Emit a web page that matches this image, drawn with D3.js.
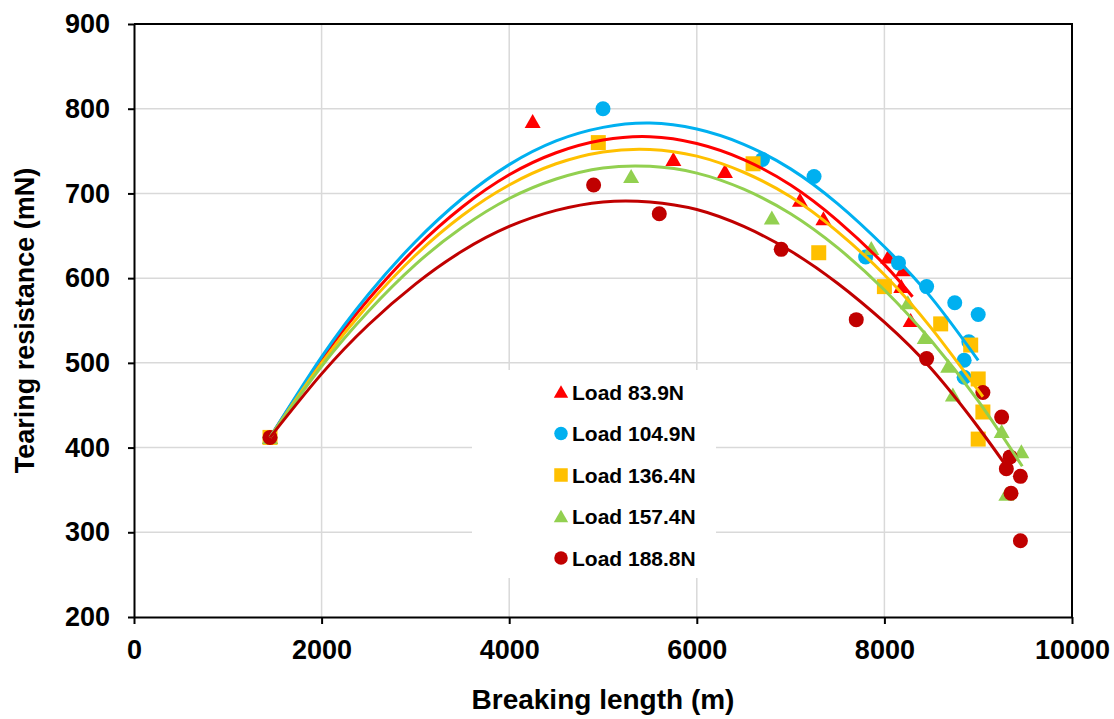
<!DOCTYPE html>
<html>
<head>
<meta charset="utf-8">
<script src="https://cdn.jsdelivr.net/npm/d3@7"></script>
<style>
  body { margin: 0; background: #fff; }
  text { font-family: "Liberation Sans", Arial, sans-serif; font-weight: bold; }
</style>
</head>
<body>
<div class="chart"></div>
<script>
// axis ticks
const xTicks = [0, 2000, 4000, 6000, 8000, 10000];
const yTicks = [200, 300, 400, 500, 600, 700, 800, 900];

// series names / colours / marker shapes
const loads = ["Load 83.9N", "Load 104.9N", "Load 136.4N", "Load 157.4N", "Load 188.8N"];
const colors = ["#ff0000", "#00b0f0", "#ffc000", "#92d050", "#c00000"];
const shapes = ["triangle", "circle", "square", "triangle", "circle"];

// measured points [breaking length, tearing resistance]
const load839 = [[1450, 412], [4250, 785], [5750, 740], [6300, 726], [7100, 692], [7350, 670],
  [8040, 625], [8200, 610], [8180, 590], [8280, 550]];
const load1049 = [[1450, 412], [5000, 800], [6700, 740], [7250, 720], [7800, 625], [8150, 618],
  [8450, 590], [8750, 571], [9000, 557], [8900, 525], [8850, 503], [8850, 483]];
const load1364 = [[1450, 412], [4950, 760], [6600, 735], [7300, 630], [8000, 590], [8600, 546],
  [8920, 521], [9000, 481], [9050, 442], [9000, 410]];
const load1574 = [[1450, 412], [5300, 720], [6800, 671], [7860, 635], [8250, 571], [8430, 530],
  [8680, 496], [8730, 462], [9250, 419], [9460, 395], [9300, 345]];
const load1888 = [[1450, 412], [4900, 710], [5600, 676], [6900, 634], [7700, 551], [8450, 505],
  [9050, 465], [9250, 436], [9340, 389], [9300, 375], [9450, 366], [9350, 346], [9450, 290]];

// polynomial trendlines
const trend839 = [[1450, 412], [2000, 504], [2500, 575], [3000, 635], [3500, 684], [4000, 722],
  [4500, 748], [5000, 763], [5500, 767], [6000, 759], [6500, 740], [7000, 710], [7500, 668],
  [8000, 616], [8300, 578]];
const trend1049 = [[1450, 412], [2000, 507], [2500, 581], [3000, 643], [3500, 694], [4000, 734],
  [4500, 762], [5000, 778], [5500, 783], [6000, 776], [6500, 758], [7000, 729], [7500, 688],
  [8000, 637], [8500, 577], [9000, 503]];
const trend1364 = [[1450, 412], [2000, 500], [2500, 569], [3000, 627], [3500, 674], [4000, 710],
  [4500, 735], [5000, 749], [5500, 752], [6000, 744], [6500, 725], [7000, 696], [7500, 655],
  [8000, 604], [8500, 541], [9050, 460]];
const trend1574 = [[1450, 412], [2000, 496], [2500, 561], [3000, 616], [3500, 660], [4000, 694],
  [4500, 717], [5000, 730], [5500, 732], [6000, 724], [6500, 705], [7000, 676], [7500, 636],
  [8000, 586], [8500, 526], [9000, 455], [9470, 378]];
const trend1888 = [[1450, 412], [2000, 487], [2500, 545], [3000, 593], [3500, 632], [4000, 661],
  [4500, 680], [5000, 690], [5500, 690], [6000, 681], [6500, 661], [7000, 632], [7500, 594],
  [8000, 548], [8500, 493], [9000, 424], [9300, 378]];

const pointSets = [load839, load1049, load1364, load1574, load1888];
const trendSets = [trend839, trend1049, trend1364, trend1574, trend1888];

const width = 1114, height = 719;
const margin = {top: 24, right: 42, bottom: 102, left: 134};

const svg = d3.select(".chart").append("svg")
  .attr("width", width)
  .attr("height", height);

const x = d3.scaleLinear().domain([0, 10000]).range([margin.left, width - margin.right]);
const y = d3.scaleLinear().domain([200, 900]).range([height - margin.bottom, margin.top]);

// gridlines
svg.append("g").selectAll("line.gx")
  .data(xTicks.slice(1, -1))
  .join("line")
  .attr("x1", d => x(d)).attr("x2", d => x(d))
  .attr("y1", y(200)).attr("y2", y(900))
  .style("stroke", "#d9d9d9").style("stroke-width", 1.5);
svg.append("g").selectAll("line.gy")
  .data(yTicks.slice(1, -1))
  .join("line")
  .attr("x1", x(0)).attr("x2", x(10000))
  .attr("y1", d => y(d)).attr("y2", d => y(d))
  .style("stroke", "#d9d9d9").style("stroke-width", 1.5);

// legend background (covers the grid)
const legendX = 472, legendY = 370;
svg.append("rect")
  .attr("x", legendX).attr("y", legendY)
  .attr("width", 244).attr("height", 208)
  .attr("fill", "#fff");

// markers
function drawMarker(sel, shape, color) {
  if (shape === "circle") {
    sel.append("circle").attr("r", 7.5).attr("fill", color);
  } else if (shape === "square") {
    sel.append("rect").attr("x", -7.5).attr("y", -7.5).attr("width", 15).attr("height", 15).attr("fill", color);
  } else {
    sel.append("path").attr("d", "M0,-7.5L8,6.5L-8,6.5Z").attr("fill", color);
  }
}

pointSets.forEach((pts, i) => {
  const g = svg.append("g").attr("class", "series-" + i);
  pts.forEach(p => {
    const m = g.append("g").attr("transform", `translate(${x(p[0])},${y(p[1])})`);
    drawMarker(m, shapes[i], colors[i]);
  });
});

// trendlines on top
const line = d3.line()
  .x(d => x(d[0]))
  .y(d => y(d[1]))
  .curve(d3.curveNatural);

svg.append("g").selectAll("path.trend")
  .data(trendSets)
  .join("path")
  .attr("class", "trend")
  .attr("d", line)
  .attr("fill", "none")
  .style("stroke", (d, i) => colors[i])
  .style("stroke-width", 3);

// axes
const xAxis = svg.append("g")
  .attr("transform", `translate(0,${y(200)})`)
  .call(d3.axisBottom(x).tickValues(xTicks).tickFormat(d3.format("d"))
    .tickSize(7).tickPadding(16).tickSizeOuter(0));
const yAxis = svg.append("g")
  .attr("transform", `translate(${x(0)},0)`)
  .call(d3.axisLeft(y).tickValues(yTicks).tickSize(6).tickPadding(18).tickSizeOuter(0));

[xAxis, yAxis].forEach(a => {
  a.select(".domain").style("stroke", "#000").style("stroke-width", 2);
  a.selectAll(".tick line").style("stroke", "#000").style("stroke-width", 2);
  a.selectAll(".tick text")
    .style("font-size", "27px")
    .style("font-weight", "bold")
    .style("font-family", '"Liberation Sans", Arial, sans-serif')
    .attr("fill", "#000");
});

// top and right frame
svg.append("path")
  .attr("d", `M${x(0)},${y(900)}H${x(10000)}V${y(200)}`)
  .attr("fill", "none")
  .style("stroke", "#000").style("stroke-width", 2);

// axis titles
svg.append("text")
  .attr("x", (x(0) + x(10000)) / 2)
  .attr("y", 709)
  .attr("text-anchor", "middle")
  .style("font-size", "28px")
  .text("Breaking length (m)");

svg.append("text")
  .attr("transform", `translate(34,${(y(200) + y(900)) / 2}) rotate(-90)`)
  .attr("text-anchor", "middle")
  .style("font-size", "27px")
  .text("Tearing resistance (mN)");

// legend
const legend = svg.append("g").selectAll("g.item")
  .data(loads)
  .join("g")
  .attr("class", "item")
  .attr("transform", (d, i) => `translate(${legendX + 89},${legendY + 22 + i * 41.5})`);

legend.each(function(d, i) {
  const g = d3.select(this);
  const m = g.append("g").attr("transform", "scale(0.9)");
  drawMarker(m, shapes[i], colors[i]);
  g.append("text")
    .attr("x", 11)
    .attr("dy", "0.36em")
    .style("font-size", "21px")
    .text(d);
});
</script>
</body>
</html>
